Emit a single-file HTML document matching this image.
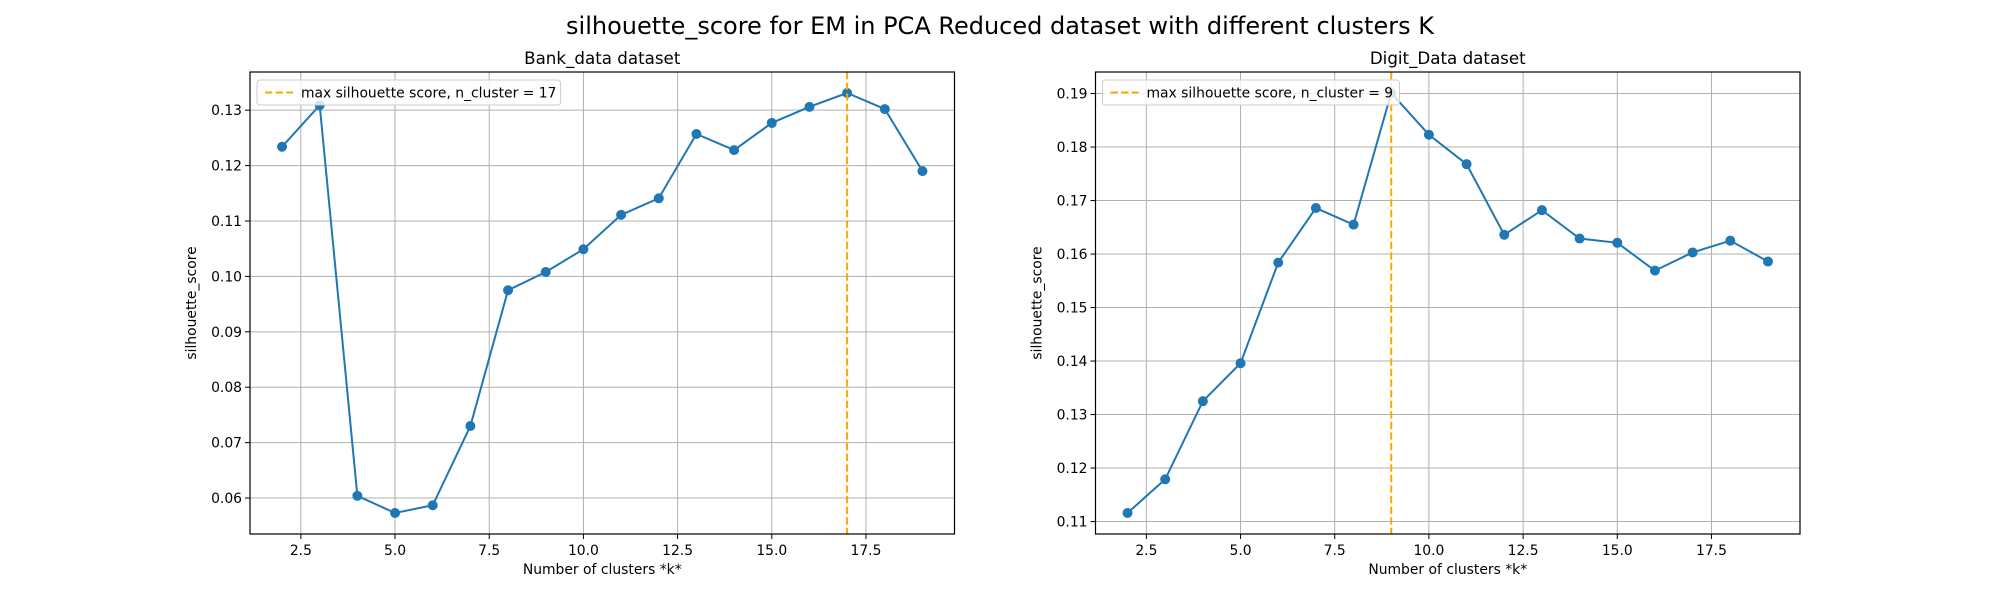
<!DOCTYPE html>
<html><head><meta charset="utf-8"><style>
html,body{margin:0;padding:0;background:#fff}
svg{display:block;font-family:"DejaVu Sans","Liberation Sans",sans-serif}
</style></head><body>
<svg id="fig" width="2000" height="600" xmlns="http://www.w3.org/2000/svg">
<rect width="2000" height="600" fill="#fff"/>
<text x="1000" y="34" font-size="24" text-anchor="middle" fill="#000">silhouette_score for EM in PCA Reduced dataset with different clusters K</text>
</svg>
<script>
const kValues=[2,3,4,5,6,7,8,9,10,11,12,13,14,15,16,17,18,19];
const bankScores=[0.1234,0.1309,0.0604,0.0573,0.0587,0.0730,0.0975,0.1008,0.1049,0.1111,0.1141,0.1257,0.1228,0.1277,0.1306,0.1331,0.1302,0.1190];
const digitScores=[0.1116,0.1179,0.1325,0.1396,0.1584,0.1686,0.1655,0.1901,0.1823,0.1768,0.1636,0.1682,0.1629,0.1621,0.1569,0.1603,0.1625,0.1586];
const xTicks=[2.5,5.0,7.5,10.0,12.5,15.0,17.5];
const bankYTicks=[0.06,0.07,0.08,0.09,0.10,0.11,0.12,0.13];
const digitYTicks=[0.11,0.12,0.13,0.14,0.15,0.16,0.17,0.18,0.19];
const bankBest=[17];
const digitBest=[9];

const NS='http://www.w3.org/2000/svg';
const svg=document.getElementById('fig');
function mk(tag,attrs,parent){const e=document.createElementNS(NS,tag);for(const k in attrs)e.setAttribute(k,attrs[k]);(parent||svg).appendChild(e);return e;}

function panel(prefix,title,left,right,ys,yTicks,best){
  const top=72,bottom=534;
  const g=mk('g',{});
  
  
  const xmin=Math.min(...kValues),xmax=Math.max(...kValues),xr=xmax-xmin;
  const x0=xmin-0.05*xr,x1=xmax+0.05*xr;
  const ymin=Math.min(...ys),ymax=Math.max(...ys),yr=ymax-ymin;
  const y0=ymin-0.05*yr,y1=ymax+0.05*yr;
  const sx=v=>left+(v-x0)/(x1-x0)*(right-left);
  const sy=v=>bottom-(v-y0)/(y1-y0)*(bottom-top);
  xTicks.forEach(t=>{
    const X=sx(t);
    const l=mk('line',{x1:X,x2:X,y1:top,y2:bottom,stroke:'#b0b0b0','stroke-width':1},g);
    
    
    mk('line',{x1:X,x2:X,y1:bottom,y2:bottom+5,stroke:'#000','stroke-width':1},g);
    const tx=mk('text',{x:X,y:bottom+21,'font-size':13.9,'text-anchor':'middle'},g);
    tx.textContent=t.toFixed(1);
    
    
  });
  yTicks.forEach(t=>{
    const Y=sy(t);
    if(Y<top-0.5||Y>bottom+0.5)return;
    const l=mk('line',{x1:left,x2:right,y1:Y,y2:Y,stroke:'#b0b0b0','stroke-width':1},g);
    
    
    mk('line',{x1:left-5,x2:left,y1:Y,y2:Y,stroke:'#000','stroke-width':1},g);
    const tx=mk('text',{x:left-8,y:Y+5,'font-size':13.9,'text-anchor':'end'},g);
    tx.textContent=t.toFixed(2);
    
    
  });
  const pts=kValues.map((k,i)=>sx(k)+','+sy(ys[i])).join(' ');
  const pl=mk('polyline',{points:pts,fill:'none',stroke:'#1f77b4','stroke-width':2},g);
  
  
  kValues.forEach((k,i)=>{
    const c=mk('circle',{cx:sx(k),cy:sy(ys[i]),r:5,fill:'#1f77b4'},g);
    
    
  });
  const vx=sx(best[0]);
  const vl=mk('line',{x1:vx,x2:vx,y1:top,y2:bottom,stroke:'#ffa500','stroke-width':2,'stroke-dasharray':'7.4,3.2'},g);
  
  
  const fr=mk('rect',{x:left,y:top,width:right-left,height:bottom-top,fill:'none',stroke:'#000','stroke-width':1.2},g);
  
  
  const ti=mk('text',{x:(left+right)/2,y:top-8,'font-size':16.7,'text-anchor':'middle'},g);
  ti.textContent=title;
  
  
  const xl=mk('text',{x:(left+right)/2,y:bottom+40,'font-size':13.9,'text-anchor':'middle'},g);
  xl.textContent='Number of clusters *k*';
  
  
  const yl=mk('text',{x:0,y:0,'font-size':13.9,'text-anchor':'middle',transform:'translate('+(left-54)+','+((top+bottom)/2)+') rotate(-90)'},g);
  yl.textContent='silhouette_score';
  
  
  const lg=mk('g',{},g);
  
  
  const label='max silhouette score, n_cluster = '+best[0];
  const lw=label.length*6.6+66;
  mk('rect',{x:left+7,y:top+8,width:lw,height:25,rx:3,fill:'#fff','fill-opacity':0.8,stroke:'#ccc','stroke-width':1},lg);
  mk('line',{x1:left+15,x2:left+43,y1:top+20.5,y2:top+20.5,stroke:'#ffa500','stroke-width':2,'stroke-dasharray':'7.4,3.2'},lg);
  const lt=mk('text',{x:left+51,y:top+25.5,'font-size':13.9},lg);
  lt.textContent=label;
  
  
}
panel('bank','Bank_data dataset',250,954.5,bankScores,bankYTicks,bankBest);
panel('digit','Digit_Data dataset',1095.5,1800,digitScores,digitYTicks,digitBest);
</script>
</body></html>
